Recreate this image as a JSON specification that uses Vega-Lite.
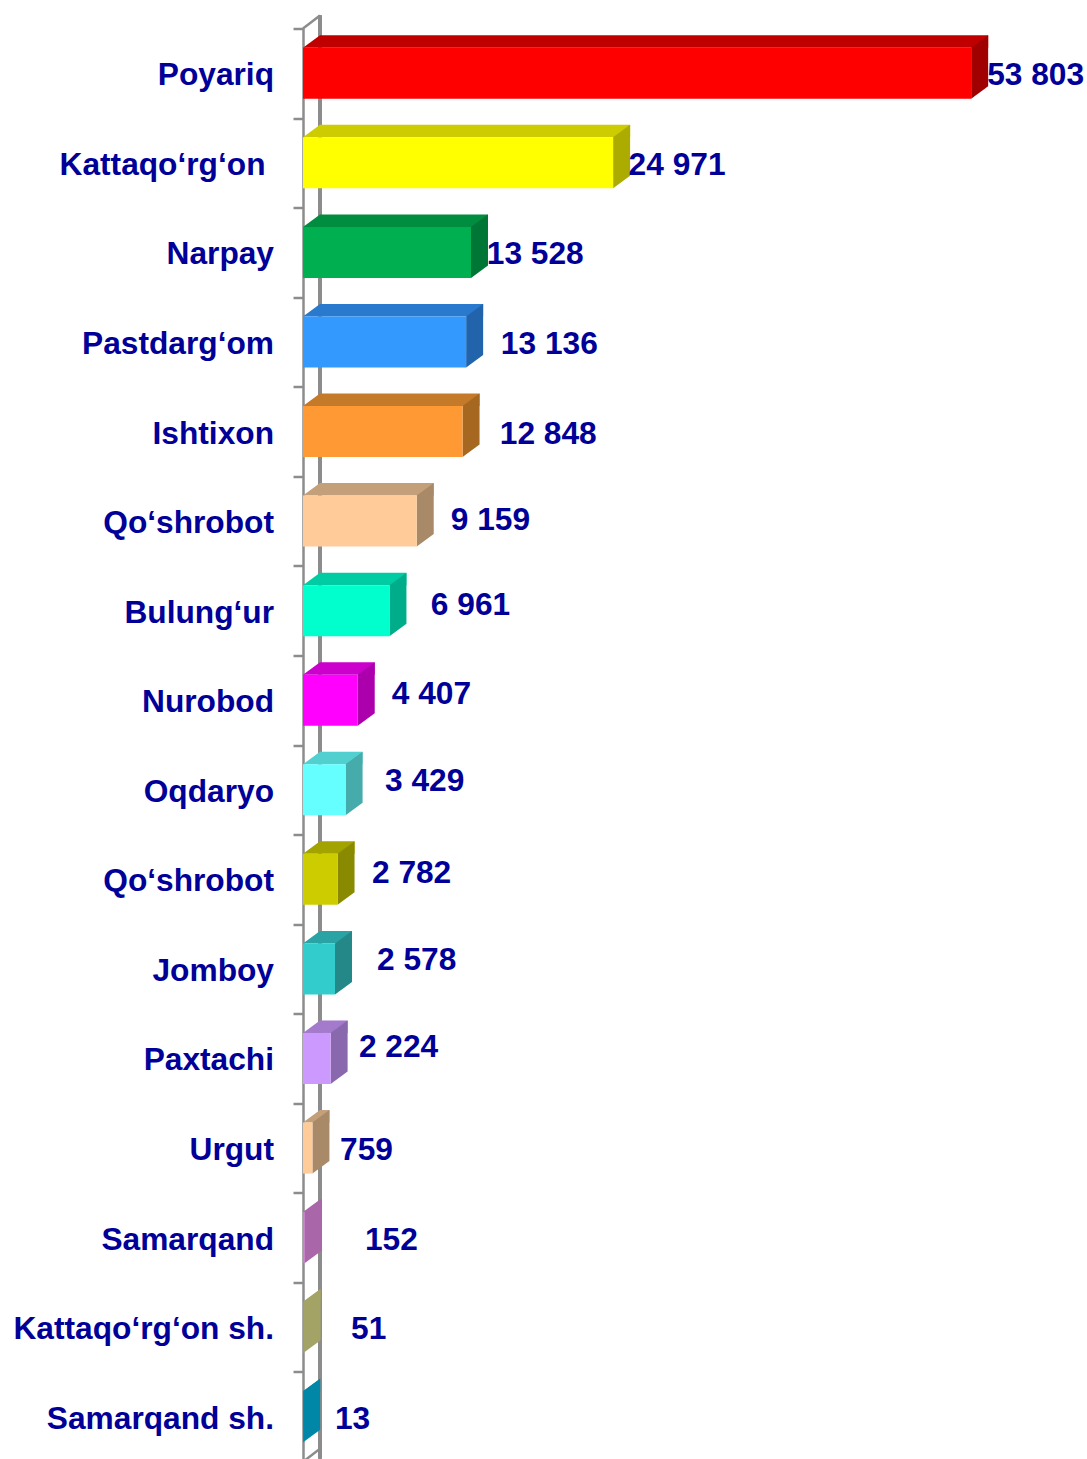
{
"$schema":"https://vega.github.io/schema/vega-lite/v6.json",
"width":784,"height":1430,
"autosize":{"type":"none"},
"padding":{"left":303,"top":28.5,"right":0,"bottom":0},
"background":"white",
"config":{"view":{"stroke":null},"text":{"font":"Liberation Sans","fontWeight":"bold","fontSize":31.7,"fill":"#000099","baseline":"middle"}},
"resolve":{"scale":{"color":"independent","fill":"independent"}},
"data":{"values":[
{"id":"a","name":"Poyariq","value":53803,"label":"53 803"},
{"id":"b","name":"Kattaqo‘rg‘on","value":24971,"label":"24 971"},
{"id":"c","name":"Narpay","value":13528,"label":"13 528"},
{"id":"d","name":"Pastdarg‘om","value":13136,"label":"13 136"},
{"id":"e","name":"Ishtixon","value":12848,"label":"12 848"},
{"id":"f","name":"Qo‘shrobot","value":9159,"label":"9 159"},
{"id":"g","name":"Bulung‘ur","value":6961,"label":"6 961"},
{"id":"h","name":"Nurobod","value":4407,"label":"4 407"},
{"id":"i","name":"Oqdaryo","value":3429,"label":"3 429"},
{"id":"j","name":"Qo‘shrobot","value":2782,"label":"2 782"},
{"id":"k","name":"Jomboy","value":2578,"label":"2 578"},
{"id":"l","name":"Paxtachi","value":2224,"label":"2 224"},
{"id":"m","name":"Urgut","value":759,"label":"759"},
{"id":"n","name":"Samarqand","value":152,"label":"152"},
{"id":"o","name":"Kattaqo‘rg‘on sh.","value":51,"label":"51"},
{"id":"p","name":"Samarqand sh.","value":13,"label":"13"}
]},
"encoding":{
"y":{"field":"id","type":"nominal","sort":null,"title":null,
"scale":{"type":"band","domain":["a","b","c","d","e","f","g","h","i","j","k","l","m","n","o","p"],"range":[0,1433],"paddingInner":0,"paddingOuter":0},
"axis":{"labels":false,"title":null,"tickBand":"extent","tickSize":10,"tickWidth":2.5,"tickColor":"#8c8c8c","domainColor":"#8c8c8c","domainWidth":2.5,"grid":false}}
},
"layer":[
{"mark":{"type":"rule","stroke":"#8c8c8c","strokeWidth":2.5,"xOffset":17,"yOffset":-13},
 "encoding":{"y":null,"x":{"datum":0,"type":"quantitative","scale":{"domain":[0,63130],"range":[0,784],"nice":false,"zero":true},"axis":null}}},
{"transform":[{"filter":"datum.id==='a'"}],
 "mark":{"type":"point","filled":false,"opacity":1,"stroke":"#8c8c8c","strokeWidth":2.5,"size":4096,"shape":"M 0 -1.4 L 0.531 -1.806"},
 "encoding":{"x":{"datum":0,"type":"quantitative"}}},
{"transform":[{"filter":"datum.id==='p'"}],
 "mark":{"type":"point","filled":false,"opacity":1,"stroke":"#8c8c8c","strokeWidth":2.5,"size":4096,"shape":"M 0.531 0.9 L 0.531 1.0 L 0 1.41"},
 "encoding":{"x":{"datum":0,"type":"quantitative"}}},
{"mark":{"type":"bar","height":12.5,"xOffset":17,"x2Offset":17,"yOffset":-31.75},
 "encoding":{"x":{"field":"value","type":"quantitative"},"x2":{"datum":0},
  "color":{"field":"id","type":"nominal","legend":null,"scale":{"domain":["a","b","c","d","e","f","g","h","i","j","k","l","m","n","o","p"],"range":["#C00000","#CCCC00","#008D40","#2979CF","#C47A28","#C4A07A","#00CCA3","#CC00CC","#52D0D0","#A3A300","#29A3A3","#A37ACC","#C4A07A","#A966A9","#A3A366","#0087A8"]}}}},
{"mark":{"type":"point","filled":true,"opacity":1,"size":4096,"strokeWidth":0,"shape":"M 0 -0.797 L 0.531 -1.1875 L 0.531 -0.797 Z"},
 "encoding":{"x":{"datum":0,"type":"quantitative"},
  "fill":{"field":"id","type":"nominal","legend":null,"scale":{"domain":["a","b","c","d","e","f","g","h","i","j","k","l","m","n","o","p"],"range":["#C00000","#CCCC00","#008D40","#2979CF","#C47A28","#C4A07A","#00CCA3","#CC00CC","#52D0D0","#A3A300","#29A3A3","#A37ACC","#C4A07A","#A966A9","#A3A366","#0087A8"]}}}},
{"mark":{"type":"point","filled":true,"opacity":1,"size":4096,"strokeWidth":0,"shape":"M 0 -0.797 L 0.531 -1.1875 L 0.531 0.406 L 0 0.797 Z"},
 "encoding":{"x":{"field":"value","type":"quantitative"},
  "fill":{"field":"id","type":"nominal","legend":null,"scale":{"domain":["a","b","c","d","e","f","g","h","i","j","k","l","m","n","o","p"],"range":["#A00000","#ABAB00","#007636","#2264AB","#A66820","#A88A68","#00AD8A","#AD00AD","#45ABAB","#8A8A00","#248888","#8A68AD","#A88A68","#A966A9","#A3A366","#0087A8"]}}}},
{"mark":{"type":"bar","height":51},
 "encoding":{"x":{"field":"value","type":"quantitative"},"x2":{"datum":0},
  "color":{"field":"id","type":"nominal","legend":null,"scale":{"domain":["a","b","c","d","e","f","g","h","i","j","k","l","m","n","o","p"],"range":["#FF0000","#FFFF00","#00B050","#3399FF","#FF9933","#FFCC99","#00FFCC","#FF00FF","#66FFFF","#CCCC00","#33CCCC","#CC99FF","#FFCC99","#CC80CC","#A3A366","#0087A8"]}}}},
{"transform":[{"filter":"datum.id!=='b'"}],"mark":{"type":"text","align":"right","dx":-29,"dy":2},"encoding":{"x":{"datum":0,"type":"quantitative"},"text":{"field":"name"}}},
{"transform":[{"filter":"datum.id==='b'"}],"mark":{"type":"text","align":"right","dx":-37.5,"dy":2},"encoding":{"x":{"datum":0,"type":"quantitative"},"text":{"field":"name"}}},
{"transform":[{"filter":"datum.id==='a'"}],"mark":{"type":"text","align":"left","dx":16,"dy":2},"encoding":{"x":{"field":"value","type":"quantitative"},"text":{"field":"label"}}},
{"transform":[{"filter":"datum.id==='b'"}],"mark":{"type":"text","align":"left","dx":15.5,"dy":2},"encoding":{"x":{"field":"value","type":"quantitative"},"text":{"field":"label"}}},
{"transform":[{"filter":"datum.id==='c'"}],"mark":{"type":"text","align":"left","dx":15.8,"dy":2},"encoding":{"x":{"field":"value","type":"quantitative"},"text":{"field":"label"}}},
{"transform":[{"filter":"datum.id==='d'"}],"mark":{"type":"text","align":"left","dx":34.7,"dy":2},"encoding":{"x":{"field":"value","type":"quantitative"},"text":{"field":"label"}}},
{"transform":[{"filter":"datum.id==='e'"}],"mark":{"type":"text","align":"left","dx":37.2,"dy":2},"encoding":{"x":{"field":"value","type":"quantitative"},"text":{"field":"label"}}},
{"transform":[{"filter":"datum.id==='f'"}],"mark":{"type":"text","align":"left","dx":34,"dy":-1},"encoding":{"x":{"field":"value","type":"quantitative"},"text":{"field":"label"}}},
{"transform":[{"filter":"datum.id==='g'"}],"mark":{"type":"text","align":"left","dx":41.4,"dy":-6},"encoding":{"x":{"field":"value","type":"quantitative"},"text":{"field":"label"}}},
{"transform":[{"filter":"datum.id==='h'"}],"mark":{"type":"text","align":"left","dx":34,"dy":-6},"encoding":{"x":{"field":"value","type":"quantitative"},"text":{"field":"label"}}},
{"transform":[{"filter":"datum.id==='i'"}],"mark":{"type":"text","align":"left","dx":39.4,"dy":-9},"encoding":{"x":{"field":"value","type":"quantitative"},"text":{"field":"label"}}},
{"transform":[{"filter":"datum.id==='j'"}],"mark":{"type":"text","align":"left","dx":34.4,"dy":-6},"encoding":{"x":{"field":"value","type":"quantitative"},"text":{"field":"label"}}},
{"transform":[{"filter":"datum.id==='k'"}],"mark":{"type":"text","align":"left","dx":42,"dy":-9},"encoding":{"x":{"field":"value","type":"quantitative"},"text":{"field":"label"}}},
{"transform":[{"filter":"datum.id==='l'"}],"mark":{"type":"text","align":"left","dx":28.3,"dy":-11},"encoding":{"x":{"field":"value","type":"quantitative"},"text":{"field":"label"}}},
{"transform":[{"filter":"datum.id==='m'"}],"mark":{"type":"text","align":"left","dx":27.6,"dy":2},"encoding":{"x":{"field":"value","type":"quantitative"},"text":{"field":"label"}}},
{"transform":[{"filter":"datum.id==='n'"}],"mark":{"type":"text","align":"left","dx":60,"dy":2},"encoding":{"x":{"field":"value","type":"quantitative"},"text":{"field":"label"}}},
{"transform":[{"filter":"datum.id==='o'"}],"mark":{"type":"text","align":"left","dx":47.4,"dy":2},"encoding":{"x":{"field":"value","type":"quantitative"},"text":{"field":"label"}}},
{"transform":[{"filter":"datum.id==='p'"}],"mark":{"type":"text","align":"left","dx":31.8,"dy":2},"encoding":{"x":{"field":"value","type":"quantitative"},"text":{"field":"label"}}}
]
}
